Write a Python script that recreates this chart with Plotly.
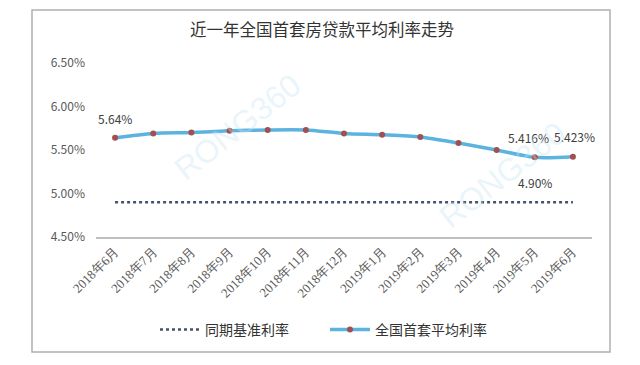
import plotly.graph_objects as go

categories = ["2018年6月", "2018年7月", "2018年8月", "2018年9月", "2018年10月", "2018年11月",
              "2018年12月", "2019年1月", "2019年2月", "2019年3月", "2019年4月", "2019年5月", "2019年6月"]
base_rate = [4.90] * 13
avg_rate = [5.64, 5.69, 5.70, 5.72, 5.73, 5.73, 5.69, 5.675, 5.65, 5.58, 5.50, 5.416, 5.423]
y_ticks = [4.5, 5.0, 5.5, 6.0, 6.5]
y_tick_text = ["4.50%", "5.00%", "5.50%", "6.00%", "6.50%"]

CJK = "Noto Sans CJK SC"
OFF = 8  # page body offset

W, H = 640 - OFF, 365 - OFF
L, R, T, B = 96 - OFF, 640 - 592, 63 - OFF, 365 - 237
PW, PH = 592 - 96, 237 - 63


def px(xw):
    return (xw - 96) / PW


def py(yw):
    return (237 - yw) / PH


fig = go.Figure()
fig.add_trace(go.Scatter(
    x=categories, y=base_rate, name="同期基准利率", mode="lines",
    line=dict(color="#44546a", width=2.5, dash="dot"),
))
fig.add_trace(go.Scatter(
    x=categories, y=avg_rate, name="全国首套平均利率", mode="lines+markers",
    line=dict(color="#5cb3e0", width=3.5, shape="spline", smoothing=0.8),
    marker=dict(color="#a05050", size=6),
))

ann = [
    dict(x=categories[0], y=avg_rate[0], text="5.64%", yshift=19),
    dict(x=categories[11], y=avg_rate[11], text="5.416%", yshift=20, xshift=-6),
    dict(x=categories[12], y=avg_rate[12], text="5.423%", yshift=20, xshift=2),
    dict(x=categories[11], y=base_rate[11], text="4.90%", yshift=20, xshift=0),
]
for a in ann:
    fig.add_annotation(xref="x", yref="y", showarrow=False,
                       font=dict(family=CJK, size=12, color="#404040"), **a)

# faint watermark
fig.add_annotation(xref="paper", yref="paper", x=px(165), y=py(190), text="RONG360", showarrow=False,
                   textangle=-38, font=dict(family="Arial", size=32, color="rgba(200,230,245,0.4)"))
fig.add_annotation(xref="paper", yref="paper", x=px(575), y=py(175), text="RONG360", showarrow=False,
                   textangle=-38, font=dict(family="Arial", size=32, color="rgba(200,230,245,0.4)"))

# outer border
fig.add_shape(type="rect", xref="paper", yref="paper", x0=px(32), x1=px(610), y0=py(352), y1=py(10),
              line=dict(color="#b0b0b0", width=1.5), fillcolor="rgba(0,0,0,0)", layer="below")

fig.update_layout(
    width=W, height=H,
    margin=dict(l=L, r=R, t=T, b=B),
    paper_bgcolor="white", plot_bgcolor="white",
    title=dict(text="近一年全国首套房贷款平均利率走势", x=(322 - OFF) / W, xref="container",
               xanchor="center", y=1 - (30 - OFF) / H,
               yanchor="middle", font=dict(family=CJK, size=16.5, color="#333333")),
    showlegend=True,
    legend=dict(orientation="h", x=px(325), xanchor="center", y=py(330), yanchor="middle",
                font=dict(family=CJK, size=14, color="#333333"), bgcolor="rgba(0,0,0,0)",
                itemwidth=40, entrywidth=115, entrywidthmode="pixels"),
    xaxis=dict(showgrid=False, showline=True, linecolor="#bfbfbf", linewidth=1.5,
               tickangle=-45, ticks="", zeroline=False, range=[-0.5, 12.5],
               tickfont=dict(family="Liberation Serif", size=13, color="#595959")),
    yaxis=dict(range=[4.5, 6.5], tickvals=y_ticks, ticktext=y_tick_text, showgrid=False,
               zeroline=False, showline=False, ticks="", ticklabelstandoff=10,
               tickfont=dict(family=CJK, size=12, color="#595959")),
)

fig.write_html("out.html")
